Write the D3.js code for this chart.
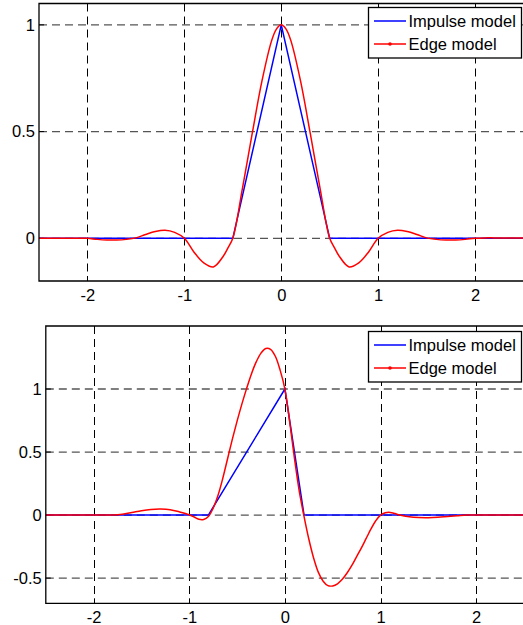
<!DOCTYPE html>
<html>
<head>
<meta charset="utf-8">
<script src="https://cdn.jsdelivr.net/npm/d3@7"></script>
<style>
  body { margin: 0; background: #fff; }
  svg { display: block; }
  .tick text { font-family: "Liberation Sans", Arial, sans-serif; font-size: 16.5px; fill: #000; }
  .legendText { font-family: "Liberation Sans", Arial, sans-serif; font-size: 16.5px; fill: #000; }
</style>
</head>
<body>
<div id="chart"></div>
<script>
// ---- data ----
const xTicks = [-2, -1, 0, 1, 2];
const topYTicks = [0, 0.5, 1];
const bottomYTicks = [-0.5, 0, 0.5, 1];
const seriesNames = ["Impulse model", "Edge model"];

// top panel
const topImpulseX = [-2.5, -0.5, 0, 0.5, 2.5];
const topImpulseY = [0, 0, 1, 0, 0];
const topEdgeX = [-2.5, -2.4, -2.3, -2.2, -2.1, -2.0, -1.9, -1.8, -1.7, -1.6, -1.5, -1.4, -1.3, -1.2, -1.1,
                  -1.0, -0.9, -0.8, -0.7, -0.6, -0.55, -0.5, -0.4, -0.3, -0.2, -0.1, -0.05, 0,
                  0.05, 0.1, 0.2, 0.3, 0.4, 0.5, 0.55, 0.6, 0.7, 0.8, 0.9, 1.0,
                  1.1, 1.2, 1.3, 1.4, 1.5, 1.6, 1.7, 1.8, 1.9, 2.0, 2.1, 2.2, 2.3, 2.4, 2.5];
const topEdgeY = [0, 0, 0, 0, 0, 0, -0.005, -0.008, -0.008, -0.005, 0.002, 0.018, 0.032, 0.038, 0.028,
                  0, -0.065, -0.115, -0.134, -0.085, -0.045, 0, 0.235, 0.49, 0.735, 0.925, 0.98, 1.0,
                  0.98, 0.925, 0.735, 0.49, 0.235, 0, -0.045, -0.085, -0.134, -0.115, -0.065, 0,
                  0.028, 0.038, 0.032, 0.018, 0.002, -0.005, -0.008, -0.008, -0.005, 0, 0.002, 0.002, 0.002, 0.002, 0.002];

// bottom panel
const botImpulseX = [-2.5, -0.8, 0, 0.2, 2.5];
const botImpulseY = [0, 0, 1, 0, 0];
const botEdgeX = [-2.5, -2.3, -2.1, -1.9, -1.8, -1.7, -1.6, -1.5, -1.4, -1.3, -1.2, -1.1, -1.0, -0.95,
                  -0.9, -0.85, -0.8, -0.75, -0.7, -0.65, -0.6, -0.55, -0.5, -0.45, -0.4, -0.35, -0.3,
                  -0.25, -0.2, -0.15, -0.1, -0.05, 0, 0.05, 0.1, 0.15, 0.2, 0.25, 0.3, 0.35, 0.4,
                  0.45, 0.5, 0.55, 0.6, 0.65, 0.7, 0.75, 0.8, 0.85, 0.9, 0.95, 1.0, 1.05, 1.1, 1.15,
                  1.2, 1.3, 1.4, 1.5, 1.6, 1.7, 1.8, 1.9, 2.0, 2.2, 2.5];
const botEdgeY = [0, 0, 0, 0, 0, 0.006, 0.02, 0.035, 0.045, 0.048, 0.043, 0.025, 0.002, -0.015,
                  -0.033, -0.035, -0.012, 0.055, 0.155, 0.29, 0.445, 0.6, 0.745, 0.88, 1.005, 1.12, 1.215,
                  1.285, 1.322, 1.315, 1.26, 1.15, 1.0, 0.74, 0.45, 0.19, -0.01, -0.19, -0.34, -0.455, -0.525,
                  -0.56, -0.562, -0.545, -0.51, -0.46, -0.4, -0.33, -0.26, -0.185, -0.11, -0.045, 0.0, 0.018, 0.021, 0.012,
                  0.0, -0.014, -0.02, -0.021, -0.018, -0.012, -0.006, 0, 0, 0, 0];

const width = 523, height = 625;
const svg = d3.select("#chart").append("svg")
    .attr("width", width).attr("height", height);

function zip(xs, ys) { return xs.map((x, i) => [x, ys[i]]); }

function drawPanel(id, box, yDomain, yTicks, impulse, edge, legendTop) {
    const xScale = d3.scaleLinear().domain([-2.5, 2.5]).range([box.left, box.right]);
    const yScale = d3.scaleLinear().domain(yDomain).range([box.bottom, box.top]);

    const g = svg.append("g").attr("id", id);

    g.append("clipPath").attr("id", id + "clip")
        .append("rect")
        .attr("x", box.left).attr("y", box.top)
        .attr("width", box.right - box.left).attr("height", box.bottom - box.top);

    // grid
    g.append("g").selectAll("line")
        .data(xTicks).join("line")
        .attr("x1", d => Math.round(xScale(d)) + 0.5).attr("x2", d => Math.round(xScale(d)) + 0.5)
        .attr("y1", box.top).attr("y2", box.bottom)
        .attr("stroke", "#000").attr("stroke-width", 1)
        .attr("stroke-dasharray", "8,5");
    g.append("g").selectAll("line")
        .data(yTicks).join("line")
        .attr("x1", box.left).attr("x2", box.right)
        .attr("y1", d => yScale(d)).attr("y2", d => yScale(d))
        .attr("stroke", "#555").attr("stroke-width", 1.3)
        .attr("stroke-dasharray", "8,5");

    // inner tick marks (top, bottom, left)
    g.append("g").selectAll("line")
        .data(xTicks).join("line")
        .attr("x1", d => Math.round(xScale(d)) + 0.5).attr("x2", d => Math.round(xScale(d)) + 0.5)
        .attr("y1", box.top).attr("y2", box.top + 5)
        .attr("stroke", "#000");
    g.append("g").selectAll("line")
        .data(xTicks).join("line")
        .attr("x1", d => Math.round(xScale(d)) + 0.5).attr("x2", d => Math.round(xScale(d)) + 0.5)
        .attr("y1", box.bottom).attr("y2", box.bottom - 5)
        .attr("stroke", "#000");
    g.append("g").selectAll("line")
        .data(yTicks).join("line")
        .attr("x1", box.left).attr("x2", box.left + 5)
        .attr("y1", d => yScale(d)).attr("y2", d => yScale(d))
        .attr("stroke", "#000");

    // tick labels (plain hyphen minus like the original)
    g.append("g")
        .attr("transform", `translate(0, ${box.bottom})`)
        .call(d3.axisBottom(xScale).tickValues(xTicks).tickSize(0).tickPadding(8)
            .tickFormat(d => String(d)))
        .call(a => a.select(".domain").remove());
    g.append("g")
        .attr("transform", `translate(${box.left}, 0)`)
        .call(d3.axisLeft(yScale).tickValues(yTicks).tickSize(0).tickPadding(4)
            .tickFormat(d => String(d)))
        .call(a => a.select(".domain").remove());

    // lines
    const line = d3.line().x(d => xScale(d[0])).y(d => yScale(d[1]));
    const plot = g.append("g").attr("clip-path", `url(#${id}clip)`);
    plot.append("path")
        .attr("d", line.curve(d3.curveLinear)(impulse))
        .attr("fill", "none").attr("stroke", "#0000ff").attr("stroke-width", 1.5);
    plot.append("path")
        .attr("d", line.curve(d3.curveCatmullRom.alpha(0.5))(edge))
        .attr("fill", "none").attr("stroke", "#ff0000").attr("stroke-width", 1.5);

    // frame
    g.append("path")
        .attr("d", `M${box.right + 1},${box.top}H${box.left}V${box.bottom}H${box.right + 1}`)
        .attr("fill", "none").attr("stroke", "#000").attr("stroke-width", 1.3);

    // legend
    const lg = g.append("g").attr("class", "legend");
    lg.append("rect")
        .attr("x", 368.5).attr("y", legendTop)
        .attr("width", 153).attr("height", 50.5)
        .attr("fill", "#fff").attr("stroke", "#000").attr("stroke-width", 1.3);
    const colors = ["#0000ff", "#ff0000"];
    seriesNames.forEach((name, i) => {
        const cy = legendTop + 13.5 + i * 23;
        lg.append("line")
            .attr("x1", 374).attr("x2", 406)
            .attr("y1", cy).attr("y2", cy)
            .attr("stroke", colors[i]).attr("stroke-width", 1.5);
        if (i === 1) {
            lg.append("circle").attr("cx", 390).attr("cy", cy).attr("r", 1.8)
                .attr("fill", colors[i]);
        }
        lg.append("text").attr("class", "legendText")
            .attr("x", 408.5).attr("y", cy)
            .attr("dy", "0.36em")
            .text(name);
    });
}

drawPanel("top", {left: 39, right: 523.5, top: 3.5, bottom: 281},
    [-0.2, 1.1], topYTicks, zip(topImpulseX, topImpulseY), zip(topEdgeX, topEdgeY), 7.5);
drawPanel("bottom", {left: 45.8, right: 524, top: 326, bottom: 603.3},
    [-0.7, 1.5], bottomYTicks, zip(botImpulseX, botImpulseY), zip(botEdgeX, botEdgeY), 331.5);
</script>
</body>
</html>
